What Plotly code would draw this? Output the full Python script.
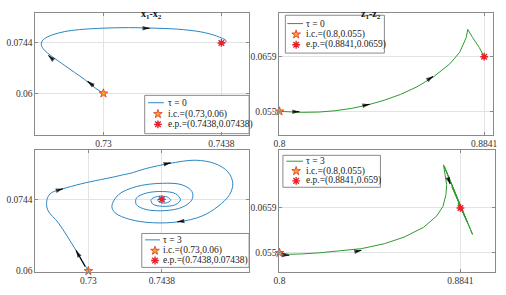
import math
import plotly.graph_objects as go

# ---------------- data ----------------
# x1-x2, tau = 0
tl_x = [0.7300, 0.72891, 0.72777, 0.72662, 0.72548, 0.72433, 0.72342, 0.72296, 0.72273, 0.72284,
        0.72342, 0.72433, 0.72548, 0.72719, 0.73006, 0.73292, 0.73578, 0.73864, 0.74151, 0.74322,
        0.74437, 0.74414, 0.7438]
tl_y = [0.0600, 0.06177, 0.06401, 0.06598, 0.06794, 0.06991, 0.07159, 0.07272, 0.07384, 0.07496,
        0.07608, 0.07693, 0.07763, 0.07819, 0.07861, 0.07875, 0.07861, 0.07833, 0.07749, 0.07636,
        0.07496, 0.0744, 0.07438]

# z1-z2, tau = 0
tr_x = [0.8, 0.80266, 0.80941, 0.81615, 0.82285, 0.82959, 0.83634, 0.84304, 0.84978, 0.85652,
        0.86323, 0.86997, 0.87401, 0.87671, 0.87736, 0.87938, 0.88208, 0.8841]
tr_y = [0.055, 0.05492, 0.05480, 0.05486, 0.05512, 0.05559, 0.05629, 0.05722, 0.05839, 0.05990,
        0.06186, 0.06447, 0.06676, 0.06970, 0.07133, 0.06970, 0.06774, 0.0659]

# x1-x2, tau = 3
bl_x = [0.7300, 0.72884, 0.72768, 0.72614, 0.72430, 0.72246, 0.72216, 0.72235, 0.72308, 0.72522,
        0.72860, 0.73228, 0.73473, 0.73657, 0.73780, 0.74086, 0.74516, 0.75006, 0.75374, 0.75620,
        0.75712, 0.75650, 0.75436, 0.75129, 0.74700, 0.74209, 0.73780, 0.73504, 0.73442, 0.73565,
        0.73902, 0.74393, 0.74761, 0.74945, 0.74945, 0.74761, 0.74454, 0.74086, 0.73902, 0.73902,
        0.74086, 0.74393, 0.74638, 0.74730, 0.74638, 0.74393, 0.74209, 0.74178, 0.74301, 0.74485,
        0.74546, 0.74454, 0.74332, 0.74301, 0.7438, 0.74443, 0.7438, 0.7438]
bl_y = [0.0600, 0.06210, 0.06414, 0.06680, 0.06977, 0.07206, 0.07339, 0.07472, 0.07571, 0.07650,
        0.07749, 0.07834, 0.07887, 0.07933, 0.07959, 0.08058, 0.08157, 0.08224, 0.08157, 0.07992,
        0.07761, 0.07531, 0.07299, 0.07101, 0.06989, 0.06969, 0.07036, 0.07167, 0.07299, 0.07531,
        0.07695, 0.07761, 0.07729, 0.07596, 0.07432, 0.07280, 0.07214, 0.07234, 0.07333, 0.07464,
        0.07563, 0.07596, 0.07551, 0.07432, 0.07333, 0.07299, 0.07345, 0.07432, 0.07497, 0.07484,
        0.07418, 0.07365, 0.07385, 0.07432, 0.07464, 0.07432, 0.07418, 0.07438]

# z1-z2, tau = 3
br_x = [0.8, 0.80457, 0.81065, 0.81828, 0.82742, 0.83807, 0.84872, 0.85786, 0.86700, 0.87313,
        0.87601, 0.87738, 0.8777, 0.87692, 0.87624, 0.88971, 0.87668, 0.88902, 0.87783, 0.88811,
        0.87897, 0.88720, 0.88011, 0.88628, 0.88126, 0.88537, 0.8824, 0.88468, 0.88308, 0.8840, 0.8841]
br_y = [0.0550, 0.05466, 0.05476, 0.0550, 0.05548, 0.05603, 0.05722, 0.05882, 0.06121, 0.06399,
        0.06631, 0.06917, 0.07157, 0.07419, 0.07635, 0.05949, 0.07587, 0.06009, 0.07443, 0.06129,
        0.07276, 0.06248, 0.07109, 0.06368, 0.06941, 0.06463, 0.06798, 0.06523, 0.06702, 0.06583, 0.0659]

# initial conditions / equilibrium points
ic_x = [0.73, 0.8]
ic_y = [0.06, 0.055]
ep_x = [0.7438, 0.8841]
ep_y = [0.07438, 0.0659]

# direction arrows: (head_x, head_y, tail_x, tail_y)
tl_arrows = [(0.72814, 0.06345, 0.72889, 0.06207), (0.72356, 0.07082, 0.7241, 0.06961),
             (0.73541, 0.07859, 0.73475, 0.07859)]
tr_arrows = [(0.80820, 0.05492, 0.80577, 0.05492), (0.83698, 0.05643, 0.83444, 0.05614),
             (0.86310, 0.06198, 0.86108, 0.06133)]
bl_arrows = [(0.72768, 0.06414, 0.72939, 0.06091), (0.72522, 0.07650, 0.72424, 0.07622),
             (0.74546, 0.08171, 0.74430, 0.08145), (0.74669, 0.06988, 0.74780, 0.07002)]
br_arrows = [(0.80457, 0.05443, 0.80197, 0.05448), (0.83807, 0.05562, 0.83533, 0.05531),
             (0.87934, 0.07173, 0.87828, 0.07312)]

# tick labels
x_ticks = [[0.73, 0.7438], [0.8, 0.8841]]
x_ticklabels = [["0.73", "0.7438"], ["0.8", "0.8841"]]
y_ticks = [[0.06, 0.07438], [0.055, 0.0659]]
y_ticklabels = [["0.06", "0.0744"], ["0.055", "0.0659"]]

legend_names = [
    ["τ = 0", "i.c.=(0.73,0.06)", "e.p.=(0.7438,0.07438)"],
    ["τ = 0", "i.c.=(0.8,0.055)", "e.p.=(0.8841,0.0659)"],
    ["τ = 3", "i.c.=(0.73,0.06)", "e.p.=(0.7438,0.07438)"],
    ["τ = 3", "i.c.=(0.8,0.055)", "e.p.=(0.8841,0.659)"],
]

# ---------------- figure ----------------
W, H = 506, 295
FONT = "Liberation Serif, Times New Roman, serif"
BLUE = "#2a86c2"
GREEN = "#2f9a2f"
FRAME = "#8a8a8a"

panels = [
    dict(x=tl_x, y=tl_y, col=0, color=BLUE, shape="spline", arrows=tl_arrows,
         xr=[0.72204, 0.74704], yr=[0.04822, 0.08299], px=(30, 248), py=(13, 137)),
    dict(x=tr_x, y=tr_y, col=1, color=GREEN, shape="linear", arrows=tr_arrows,
         xr=[0.8, 0.8878], yr=[0.05035, 0.07466], px=(279, 497), py=(13, 137)),
    dict(x=bl_x, y=bl_y, col=0, color=BLUE, shape="spline", arrows=bl_arrows,
         xr=[0.72006, 0.76018], yr=[0.05984, 0.08421], px=(30, 248), py=(153, 276.5)),
    dict(x=br_x, y=br_y, col=1, color=GREEN, shape="linear", arrows=br_arrows,
         xr=[0.8, 0.90023], yr=[0.05041, 0.07986], px=(279, 499), py=(153, 276.5)),
]

# legend boxes in pixels: box (x0, y0, x1, y1), row y's, sample line x0/x1, marker x, text x
legend_layout = [
    dict(box=(141.5, 97, 248, 136), rows=(104.5, 116, 126.5), line=(145, 161), mx=155, tx=163),
    dict(box=(285, 15.5, 386, 54), rows=(24, 35, 45.5), line=(287, 303), mx=296, tx=303.5),
    dict(box=(138.5, 237.5, 248, 272), rows=(244, 255, 265), line=(142, 157), mx=152, tx=158),
    dict(box=(282.5, 158, 382, 190.5), rows=(164, 174, 184), line=(286, 303), mx=296, tx=303.5),
]

fig = go.Figure()
annotations = []
shapes = []
layout = dict(width=W, height=H, margin=dict(l=0, r=0, t=0, b=0), showlegend=False,
              paper_bgcolor="white", plot_bgcolor="white",
              font=dict(family=FONT, size=9, color="#333"))


def to_data(p, px, py):
    x0, x1 = p["px"]
    y0, y1 = p["py"]
    dx = p["xr"][0] + (px - x0) / (x1 - x0) * (p["xr"][1] - p["xr"][0])
    dy = p["yr"][1] - (py - y0) / (y1 - y0) * (p["yr"][1] - p["yr"][0])
    return dx, dy


ic_marker = dict(symbol="star", size=6.5, color="#f7a531", line=dict(color="#e0301e", width=0.8))
ep_marker = dict(symbol="asterisk-open", size=6.5, color="#e8202a",
                 line=dict(color="#e8202a", width=1.4))

for i, p in enumerate(panels):
    n = "" if i == 0 else str(i + 1)
    xa, ya = "x" + n, "y" + n
    c = p["col"]
    lg = legend_layout[i]
    sx = (p["px"][1] - p["px"][0]) / (p["xr"][1] - p["xr"][0])
    sy = (p["py"][1] - p["py"][0]) / (p["yr"][1] - p["yr"][0])

    # legend box + sample line (between grid and traces)
    bx0, by0 = to_data(p, lg["box"][0], lg["box"][3])
    bx1, by1 = to_data(p, lg["box"][2], lg["box"][1])
    shapes.append(dict(type="rect", xref=xa, yref=ya, x0=bx0, y0=by0, x1=bx1, y1=by1,
                       fillcolor="white", line=dict(color=FRAME, width=1), layer="between"))
    lx0, ly = to_data(p, lg["line"][0], lg["rows"][0])
    lx1, _ = to_data(p, lg["line"][1], lg["rows"][0])
    shapes.append(dict(type="line", xref=xa, yref=ya, x0=lx0, y0=ly, x1=lx1, y1=ly,
                       line=dict(color=p["color"], width=1), layer="between"))

    fig.add_trace(go.Scatter(x=p["x"], y=p["y"], mode="lines", xaxis=xa, yaxis=ya,
                             line=dict(color=p["color"], width=1, shape=p["shape"], smoothing=1),
                             name=legend_names[i][0]))
    fig.add_trace(go.Scatter(x=[ic_x[c]], y=[ic_y[c]], mode="markers", xaxis=xa, yaxis=ya,
                             marker=ic_marker, cliponaxis=False, name=legend_names[i][1]))
    fig.add_trace(go.Scatter(x=[ep_x[c]], y=[ep_y[c]], mode="markers", xaxis=xa, yaxis=ya,
                             marker=ep_marker, cliponaxis=False, name=legend_names[i][2]))

    # direction arrows: short black shaft + arrowhead marker oriented along the path
    for hx, hy, tx, ty in p["arrows"]:
        ang = math.degrees(math.atan2((hx - tx) * sx, (hy - ty) * sy))
        fig.add_trace(go.Scatter(x=[tx, hx], y=[ty, hy], mode="lines+markers", xaxis=xa, yaxis=ya,
                                 line=dict(color="black", width=1.1),
                                 marker=dict(symbol="arrow", size=[0, 7.5], angle=[0, ang],
                                             color="black", line=dict(width=0)),
                                 hoverinfo="skip"))

    # legend glyphs
    gx, gy1 = to_data(p, lg["mx"], lg["rows"][1])
    _, gy2 = to_data(p, lg["mx"], lg["rows"][2])
    fig.add_trace(go.Scatter(x=[gx], y=[gy1], mode="markers", xaxis=xa, yaxis=ya,
                             marker=ic_marker, cliponaxis=False, hoverinfo="skip"))
    fig.add_trace(go.Scatter(x=[gx], y=[gy2], mode="markers", xaxis=xa, yaxis=ya,
                             marker=ep_marker, cliponaxis=False, hoverinfo="skip"))
    for r in range(3):
        annotations.append(dict(x=lg["tx"] / W, y=1 - lg["rows"][r] / H, xref="paper",
                                yref="paper", xanchor="left", yanchor="middle", showarrow=False,
                                text=legend_names[i][r],
                                font=dict(family=FONT, size=9.5, color="#222")))

    axis_common = dict(showgrid=True, gridcolor="#e3e3e3", gridwidth=1, zeroline=False,
                       showline=True, linecolor=FRAME, linewidth=1, mirror="ticks",
                       ticks="inside", ticklen=3, tickcolor=FRAME, ticklabeloverflow="allow",
                       tickfont=dict(family=FONT, size=9.5, color="#333"))
    layout["xaxis" + n] = dict(axis_common, domain=[p["px"][0] / W, p["px"][1] / W],
                               range=p["xr"], anchor=ya, tickvals=x_ticks[c],
                               ticktext=x_ticklabels[c])
    layout["yaxis" + n] = dict(axis_common, domain=[1 - p["py"][1] / H, 1 - p["py"][0] / H],
                               range=p["yr"], anchor=xa, tickvals=y_ticks[c],
                               ticktext=y_ticklabels[c])

annotations.append(dict(x=136 / W, y=1 - 6 / H, xref="paper", yref="paper", showarrow=False,
                        text="<b>x<sub>1</sub>-x<sub>2</sub></b>",
                        font=dict(family=FONT, size=10, color="#111")))
annotations.append(dict(x=385 / W, y=1 - 6 / H, xref="paper", yref="paper", showarrow=False,
                        text="<b>z<sub>1</sub>-z<sub>2</sub></b>",
                        font=dict(family=FONT, size=10, color="#111")))
layout["annotations"] = annotations
layout["shapes"] = shapes
fig.update_layout(**layout)
fig.write_html("out.html", config={"displayModeBar": False},
               post_script="document.body.style.margin='0';document.body.style.padding='0';")
